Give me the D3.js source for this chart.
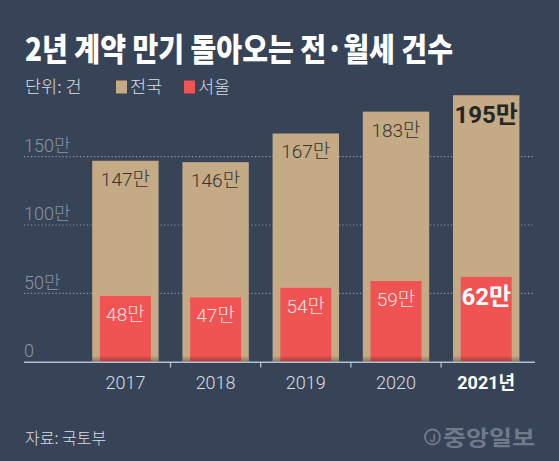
<!DOCTYPE html>
<html><head><meta charset="utf-8">
<script src="https://cdn.jsdelivr.net/npm/d3@7"></script>
<style>
html,body{margin:0;padding:0;background:#374457;}
svg{display:block;}
</style></head>
<body>
<svg id="chart" width="559" height="461"></svg>
<script>
const years = ["2017","2018","2019","2020","2021"];
const yearLabels = ["2017","2018","2019","2020","2021년"];
const national = [147,146,167,183,195];   // 만 건
const seoul = [48,47,54,59,62];           // 만 건
const yTicks = [0,50,100,150];
const yTickLabels = ["0","50만","100만","150만"];
const title = "2년 계약 만기 돌아오는 전·월세 건수";
const unitLabel = "단위: 건";
const seriesNames = ["전국","서울"];
const source = "자료: 국토부";

const C = {bg:"#374457", tan:"#c4ab85", red:"#ef5352", grid:"#8b96a6", axis:"#b4bfcc",
           tick:"#8893a4", text:"#d9dde3", dark:"#333333"};
const KR = "'Noto Sans CJK KR', sans-serif";
const NUM = "Roboto, 'Noto Sans CJK KR', sans-serif";

const svg = d3.select("#chart");
svg.append("rect").attr("width",559).attr("height",461).attr("fill",C.bg);

const x = d3.scaleBand().domain(years).range([80.3,531.3]).paddingInner(0.264).paddingOuter(0.132);
const y = d3.scaleLinear().domain([0,150]).range([361.6,156.7]);

// title
svg.append("text").attr("x",25).attr("y",61).text(title)
  .attr("font-family",KR).attr("font-weight",900).attr("font-size",32)
  .attr("fill","#ffffff").attr("textLength",428).attr("lengthAdjust","spacingAndGlyphs");

// legend
svg.append("text").attr("x",25).attr("y",93).text(unitLabel)
  .attr("font-family",KR).attr("font-weight",300).attr("font-size",17.5).attr("fill",C.text);
const leg = [{c:C.tan,x:116,t:seriesNames[0]},{c:C.red,x:184,t:seriesNames[1]}];
leg.forEach(l=>{
  svg.append("rect").attr("x",l.x).attr("y",80.5).attr("width",11).attr("height",13).attr("fill",l.c);
  svg.append("text").attr("x",l.x+14).attr("y",93).text(l.t)
    .attr("font-family",KR).attr("font-weight",300).attr("font-size",17.5).attr("fill",C.text);
});

// grid
const gridG = svg.append("g");
yTicks.filter(d=>d>0).forEach(d=>{
  gridG.append("line").attr("x1",24).attr("x2",535).attr("y1",y(d)).attr("y2",y(d))
    .attr("stroke",C.grid).attr("stroke-width",1.2).attr("stroke-dasharray","1.2,2.3");
});
yTicks.forEach((d,i)=>{
  svg.append("text").attr("x",24).attr("y",y(d)-4.8).text(yTickLabels[i])
    .attr("font-family",NUM).attr("font-weight",300).attr("font-size",18).attr("fill",C.tick);
});

// bars
const defs = svg.append("defs");
const grad = defs.append("linearGradient").attr("id","sh").attr("x1",0).attr("x2",0).attr("y1",0).attr("y2",1);
grad.append("stop").attr("offset","0%").attr("stop-color","#000").attr("stop-opacity",0);
grad.append("stop").attr("offset","100%").attr("stop-color","#000").attr("stop-opacity",0.3);

const inset = 7.7;
const bars = svg.append("g");
years.forEach((yr,i)=>{
  bars.append("rect").attr("x",x(yr)).attr("y",y(national[i])).attr("width",x.bandwidth())
    .attr("height",y(0)-y(national[i])).attr("fill",C.tan);
  bars.append("rect").attr("x",x(yr)+inset).attr("y",y(seoul[i])).attr("width",x.bandwidth()-2*inset)
    .attr("height",y(0)-y(seoul[i])).attr("fill",C.red);
  bars.append("rect").attr("x",x(yr)).attr("y",y(0)-6).attr("width",x.bandwidth())
    .attr("height",6).attr("fill","url(#sh)");
  const last = i===years.length-1;
  const cx = x(yr)+x.bandwidth()/2;
  svg.append("text").attr("x",cx).attr("y",y(national[i])+(last?28:25)).attr("text-anchor","middle")
    .text(national[i]+"만").attr("font-family",NUM).attr("font-weight",last?700:300)
    .attr("font-size",last?24:19).attr("fill",last?"#262626":C.dark);
  svg.append("text").attr("x",cx).attr("y",y(seoul[i])+(last?28:25)).attr("text-anchor","middle")
    .text(seoul[i]+"만").attr("font-family",NUM).attr("font-weight",last?700:300)
    .attr("font-size",last?24:19).attr("fill",last?"#ffffff":"#fbe3e3");
});

// axis
svg.append("line").attr("x1",24).attr("x2",535).attr("y1",362.3).attr("y2",362.3)
  .attr("stroke",C.axis).attr("stroke-width",1.6);
const step = x.step();
years.slice(1).forEach(yr=>{
  const tx = x(yr) - step*x.paddingInner()/2;
  svg.append("line").attr("x1",tx).attr("x2",tx).attr("y1",362).attr("y2",367.5)
    .attr("stroke",C.axis).attr("stroke-width",1.3);
});
years.forEach((yr,i)=>{
  const last = i===years.length-1;
  svg.append("text").attr("x",x(yr)+x.bandwidth()/2).attr("y",389).attr("text-anchor","middle")
    .text(yearLabels[i]).attr("font-family",NUM).attr("font-weight",last?700:300)
    .attr("font-size",18).attr("fill",last?"#ffffff":C.text);
});

// source
svg.append("text").attr("x",25).attr("y",444).text(source)
  .attr("font-family",KR).attr("font-weight",300).attr("font-size",16).attr("fill",C.text);

// logo
const lg = svg.append("g").attr("fill","#6f7a8b");
lg.append("circle").attr("cx",432.5).attr("cy",437).attr("r",7.5).attr("fill","none")
  .attr("stroke","#6f7a8b").attr("stroke-width",1.8);
lg.append("text").attr("x",432.5).attr("y",441.5).attr("text-anchor","middle").text("J")
  .attr("font-family",NUM).attr("font-weight",700).attr("font-size",11);
lg.append("text").attr("x",443).attr("y",444.5).text("중앙일보")
  .attr("font-family",KR).attr("font-weight",700).attr("font-size",21)
  .attr("textLength",92).attr("lengthAdjust","spacingAndGlyphs");
</script>
</body></html>
